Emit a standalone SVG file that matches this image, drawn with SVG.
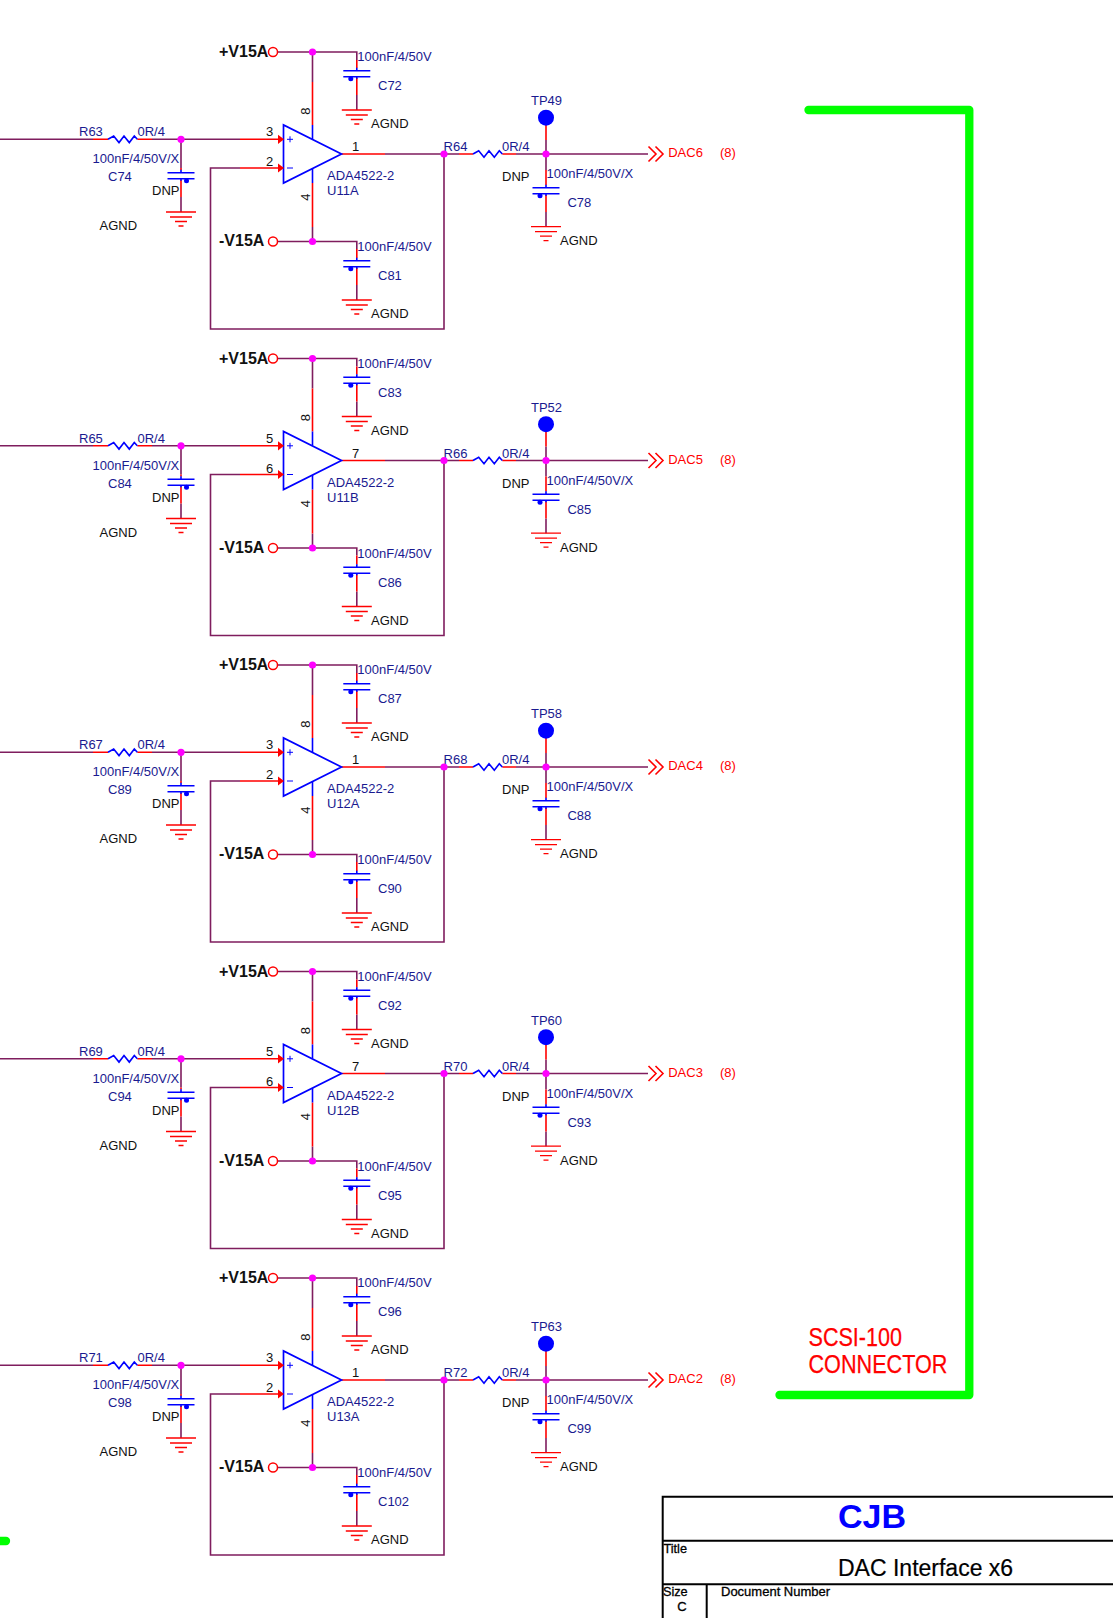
<svg xmlns="http://www.w3.org/2000/svg" width="1113" height="1618" viewBox="0 0 1113 1618">
<style>
text{font-family:"Liberation Sans",Arial,sans-serif;font-size:13px}
.n{fill:#1a1a90}
.k{fill:#111}
.r{fill:#ff0000;font-size:13px}
.b{fill:#111;font-weight:bold;font-size:16px}
.m{text-anchor:middle}
.t{fill:#000;stroke:#000;stroke-width:.3px}
.s{fill:none;stroke-width:1.6;stroke-linecap:butt}
.p{stroke:#7f1d5e}
.e{stroke:#ff0000}
.u{stroke:#0000ff}
.bk{fill:none;stroke:#000;stroke-width:2}
.g{fill:none;stroke:#00ff00;stroke-width:8.3;stroke-linecap:round;stroke-linejoin:round}
.o{fill:#fff;stroke:#ff0000;stroke-width:1.5}
</style>
<defs>
<circle id="j" r="3.6" fill="#ff00ff"/>
<polyline id="res" class="s u" points="0,0 5.7,-3.3 11,3.3 16,-3.3 21.3,3.3 26.3,-3.3 29.3,0"/>
<g id="gnd" class="s e" style="stroke-width:1.3"><path d="M-15 0H15M-11 5H11M-6 9.5H6M-2.5 14H2.5"/></g>
<g id="cap"><path class="s u" d="M-13.5 0H13.5M-13.5 6H13.5M0 -3V0M0 6V8"/><circle cx="-6" cy="8" r="2.5" fill="#0000ff"/></g>
<g id="capm"><path class="s u" d="M-13.5 0H13.5M-13.5 6H13.5M0 -3V0M0 6V8"/><circle cx="5.5" cy="8" r="2.5" fill="#0000ff"/></g>
<g id="amp">
<polygon points="283.5,125 283.5,183 341.5,154" fill="none" stroke="#0000ff" stroke-width="1.7"/>
<polygon points="278,134.8 284,139.3 278,144" fill="#ff0000"/>
<polygon points="278,163.5 284,168 278,172.5" fill="#ff0000"/>
<path class="s u" d="M312.5 125V139M312.5 168.6V183"/>
<path class="s u" style="stroke-width:1" d="M287 139.3H293M290 136.3V142.3M287 168H293"/>
</g>
<path id="chev" class="s e" d="M0 -7.5L7.5 0L0 7.5M7 -7.5L14.5 0L7 7.5"/>
<g id="w">
<path class="s p" d="M0 139.3H93M152 139.3H240M240 168H210.5V329H444V154M385 154H459M516 154H648M278 52H356.8V60M312.5 52V82M181 139.3V168M181 197V212M278 241.5H356.8V249M312.5 227V241.5M356.8 95V110M356.8 285V300M546 140V170M546 212V226.7"/>
<path class="s e" d="M93 139.3H108M137.3 139.3H152M240 139.3H280M240 168H280M341.5 154H385M459 154H473M502.3 154H516M312.5 82V125M312.5 183V227M356.8 60V68M356.8 78V95M356.8 249V258M356.8 268V285M181 168V170M181 180V197M546 125V140M546 170V185M546 195V212"/>
</g>
</defs>
<rect width="1113" height="1618" fill="#fff"/>
<g id="connectors">
<use href="#w"/><use href="#w" y="306.5"/><use href="#w" y="613"/><use href="#w" y="919.5"/><use href="#w" y="1226"/>
</g>

<g id="block1">
<g id="R63"><use href="#res" x="108" y="139.3"/><text class="n" x="79" y="136">R63</text><text class="n" x="137.5" y="136">0R/4</text></g>
<g id="C74"><use href="#capm" x="181" y="172.7"/><use href="#gnd" x="181" y="212"/><text class="n" x="92.5" y="163">100nF/4/50V/X</text><text class="n" x="108" y="181">C74</text><text class="k" x="152" y="195">DNP</text><text class="k" x="99.5" y="230">AGND</text></g>
<g id="U11A"><use href="#amp"/><text class="k" x="266" y="136">3</text><text class="k" x="266" y="166">2</text><text class="k" x="352" y="151">1</text><text class="k m" x="309.5" y="111" transform="rotate(-90 309.5 111)">8</text><text class="k m" x="309.5" y="197" transform="rotate(-90 309.5 197)">4</text><text class="n" x="327" y="180">ADA4522-2</text><text class="n" x="327" y="195">U11A</text></g>
<g id="VP1"><circle class="o" cx="273" cy="52" r="4.5"/><text class="b" x="219" y="57">+V15A</text><use href="#j" x="312.5" y="52"/></g>
<g id="VN1"><circle class="o" cx="273" cy="241.5" r="4.5"/><text class="b" x="219" y="246">-V15A</text><use href="#j" x="312.5" y="241.5"/></g>
<g id="C72"><use href="#cap" x="356.8" y="70.7"/><use href="#gnd" x="356.8" y="110"/><text class="n" x="357.3" y="61">100nF/4/50V</text><text class="n" x="378" y="90">C72</text><text class="k" x="371" y="128">AGND</text></g>
<g id="C81"><use href="#cap" x="356.8" y="260.7"/><use href="#gnd" x="356.8" y="300"/><text class="n" x="357.3" y="251">100nF/4/50V</text><text class="n" x="378" y="280">C81</text><text class="k" x="371" y="318">AGND</text></g>
<g id="R64"><use href="#res" x="473" y="154"/><text class="n" x="443.6" y="151">R64</text><text class="n" x="502" y="151">0R/4</text></g>
<g id="TP49"><circle cx="546" cy="117.7" r="8" fill="#0000ff"/><text class="n" x="531" y="105">TP49</text></g>
<g id="C78"><use href="#cap" x="546" y="187.7"/><use href="#gnd" x="546" y="226.7"/><text class="k" x="502" y="181">DNP</text><text class="n" x="546.5" y="178">100nF/4/50V/X</text><text class="n" x="567.4" y="207">C78</text><text class="k" x="560" y="245">AGND</text></g>
<g id="DAC6"><use href="#chev" x="648.5" y="154"/><text class="r" x="668.2" y="157">DAC6</text><text class="r" x="720" y="157">(8)</text></g>
<g id="J1"><use href="#j" x="181" y="139.3"/><use href="#j" x="444" y="154"/><use href="#j" x="546" y="154"/></g>
</g>

<g id="block2" transform="translate(0,306.5)">
<g id="R65"><use href="#res" x="108" y="139.3"/><text class="n" x="79" y="136">R65</text><text class="n" x="137.5" y="136">0R/4</text></g>
<g id="C84"><use href="#capm" x="181" y="172.7"/><use href="#gnd" x="181" y="212"/><text class="n" x="92.5" y="163">100nF/4/50V/X</text><text class="n" x="108" y="181">C84</text><text class="k" x="152" y="195">DNP</text><text class="k" x="99.5" y="230">AGND</text></g>
<g id="U11B"><use href="#amp"/><text class="k" x="266" y="136">5</text><text class="k" x="266" y="166">6</text><text class="k" x="352" y="151">7</text><text class="k m" x="309.5" y="111" transform="rotate(-90 309.5 111)">8</text><text class="k m" x="309.5" y="197" transform="rotate(-90 309.5 197)">4</text><text class="n" x="327" y="180">ADA4522-2</text><text class="n" x="327" y="195">U11B</text></g>
<g id="VP2"><circle class="o" cx="273" cy="52" r="4.5"/><text class="b" x="219" y="57">+V15A</text><use href="#j" x="312.5" y="52"/></g>
<g id="VN2"><circle class="o" cx="273" cy="241.5" r="4.5"/><text class="b" x="219" y="246">-V15A</text><use href="#j" x="312.5" y="241.5"/></g>
<g id="C83"><use href="#cap" x="356.8" y="70.7"/><use href="#gnd" x="356.8" y="110"/><text class="n" x="357.3" y="61">100nF/4/50V</text><text class="n" x="378" y="90">C83</text><text class="k" x="371" y="128">AGND</text></g>
<g id="C86"><use href="#cap" x="356.8" y="260.7"/><use href="#gnd" x="356.8" y="300"/><text class="n" x="357.3" y="251">100nF/4/50V</text><text class="n" x="378" y="280">C86</text><text class="k" x="371" y="318">AGND</text></g>
<g id="R66"><use href="#res" x="473" y="154"/><text class="n" x="443.6" y="151">R66</text><text class="n" x="502" y="151">0R/4</text></g>
<g id="TP52"><circle cx="546" cy="117.7" r="8" fill="#0000ff"/><text class="n" x="531" y="105">TP52</text></g>
<g id="C85"><use href="#cap" x="546" y="187.7"/><use href="#gnd" x="546" y="226.7"/><text class="k" x="502" y="181">DNP</text><text class="n" x="546.5" y="178">100nF/4/50V/X</text><text class="n" x="567.4" y="207">C85</text><text class="k" x="560" y="245">AGND</text></g>
<g id="DAC5"><use href="#chev" x="648.5" y="154"/><text class="r" x="668.2" y="157">DAC5</text><text class="r" x="720" y="157">(8)</text></g>
<g id="J2"><use href="#j" x="181" y="139.3"/><use href="#j" x="444" y="154"/><use href="#j" x="546" y="154"/></g>
</g>

<g id="block3" transform="translate(0,613)">
<g id="R67"><use href="#res" x="108" y="139.3"/><text class="n" x="79" y="136">R67</text><text class="n" x="137.5" y="136">0R/4</text></g>
<g id="C89"><use href="#capm" x="181" y="172.7"/><use href="#gnd" x="181" y="212"/><text class="n" x="92.5" y="163">100nF/4/50V/X</text><text class="n" x="108" y="181">C89</text><text class="k" x="152" y="195">DNP</text><text class="k" x="99.5" y="230">AGND</text></g>
<g id="U12A"><use href="#amp"/><text class="k" x="266" y="136">3</text><text class="k" x="266" y="166">2</text><text class="k" x="352" y="151">1</text><text class="k m" x="309.5" y="111" transform="rotate(-90 309.5 111)">8</text><text class="k m" x="309.5" y="197" transform="rotate(-90 309.5 197)">4</text><text class="n" x="327" y="180">ADA4522-2</text><text class="n" x="327" y="195">U12A</text></g>
<g id="VP3"><circle class="o" cx="273" cy="52" r="4.5"/><text class="b" x="219" y="57">+V15A</text><use href="#j" x="312.5" y="52"/></g>
<g id="VN3"><circle class="o" cx="273" cy="241.5" r="4.5"/><text class="b" x="219" y="246">-V15A</text><use href="#j" x="312.5" y="241.5"/></g>
<g id="C87"><use href="#cap" x="356.8" y="70.7"/><use href="#gnd" x="356.8" y="110"/><text class="n" x="357.3" y="61">100nF/4/50V</text><text class="n" x="378" y="90">C87</text><text class="k" x="371" y="128">AGND</text></g>
<g id="C90"><use href="#cap" x="356.8" y="260.7"/><use href="#gnd" x="356.8" y="300"/><text class="n" x="357.3" y="251">100nF/4/50V</text><text class="n" x="378" y="280">C90</text><text class="k" x="371" y="318">AGND</text></g>
<g id="R68"><use href="#res" x="473" y="154"/><text class="n" x="443.6" y="151">R68</text><text class="n" x="502" y="151">0R/4</text></g>
<g id="TP58"><circle cx="546" cy="117.7" r="8" fill="#0000ff"/><text class="n" x="531" y="105">TP58</text></g>
<g id="C88"><use href="#cap" x="546" y="187.7"/><use href="#gnd" x="546" y="226.7"/><text class="k" x="502" y="181">DNP</text><text class="n" x="546.5" y="178">100nF/4/50V/X</text><text class="n" x="567.4" y="207">C88</text><text class="k" x="560" y="245">AGND</text></g>
<g id="DAC4"><use href="#chev" x="648.5" y="154"/><text class="r" x="668.2" y="157">DAC4</text><text class="r" x="720" y="157">(8)</text></g>
<g id="J3"><use href="#j" x="181" y="139.3"/><use href="#j" x="444" y="154"/><use href="#j" x="546" y="154"/></g>
</g>

<g id="block4" transform="translate(0,919.5)">
<g id="R69"><use href="#res" x="108" y="139.3"/><text class="n" x="79" y="136">R69</text><text class="n" x="137.5" y="136">0R/4</text></g>
<g id="C94"><use href="#capm" x="181" y="172.7"/><use href="#gnd" x="181" y="212"/><text class="n" x="92.5" y="163">100nF/4/50V/X</text><text class="n" x="108" y="181">C94</text><text class="k" x="152" y="195">DNP</text><text class="k" x="99.5" y="230">AGND</text></g>
<g id="U12B"><use href="#amp"/><text class="k" x="266" y="136">5</text><text class="k" x="266" y="166">6</text><text class="k" x="352" y="151">7</text><text class="k m" x="309.5" y="111" transform="rotate(-90 309.5 111)">8</text><text class="k m" x="309.5" y="197" transform="rotate(-90 309.5 197)">4</text><text class="n" x="327" y="180">ADA4522-2</text><text class="n" x="327" y="195">U12B</text></g>
<g id="VP4"><circle class="o" cx="273" cy="52" r="4.5"/><text class="b" x="219" y="57">+V15A</text><use href="#j" x="312.5" y="52"/></g>
<g id="VN4"><circle class="o" cx="273" cy="241.5" r="4.5"/><text class="b" x="219" y="246">-V15A</text><use href="#j" x="312.5" y="241.5"/></g>
<g id="C92"><use href="#cap" x="356.8" y="70.7"/><use href="#gnd" x="356.8" y="110"/><text class="n" x="357.3" y="61">100nF/4/50V</text><text class="n" x="378" y="90">C92</text><text class="k" x="371" y="128">AGND</text></g>
<g id="C95"><use href="#cap" x="356.8" y="260.7"/><use href="#gnd" x="356.8" y="300"/><text class="n" x="357.3" y="251">100nF/4/50V</text><text class="n" x="378" y="280">C95</text><text class="k" x="371" y="318">AGND</text></g>
<g id="R70"><use href="#res" x="473" y="154"/><text class="n" x="443.6" y="151">R70</text><text class="n" x="502" y="151">0R/4</text></g>
<g id="TP60"><circle cx="546" cy="117.7" r="8" fill="#0000ff"/><text class="n" x="531" y="105">TP60</text></g>
<g id="C93"><use href="#cap" x="546" y="187.7"/><use href="#gnd" x="546" y="226.7"/><text class="k" x="502" y="181">DNP</text><text class="n" x="546.5" y="178">100nF/4/50V/X</text><text class="n" x="567.4" y="207">C93</text><text class="k" x="560" y="245">AGND</text></g>
<g id="DAC3"><use href="#chev" x="648.5" y="154"/><text class="r" x="668.2" y="157">DAC3</text><text class="r" x="720" y="157">(8)</text></g>
<g id="J4"><use href="#j" x="181" y="139.3"/><use href="#j" x="444" y="154"/><use href="#j" x="546" y="154"/></g>
</g>

<g id="block5" transform="translate(0,1226)">
<g id="R71"><use href="#res" x="108" y="139.3"/><text class="n" x="79" y="136">R71</text><text class="n" x="137.5" y="136">0R/4</text></g>
<g id="C98"><use href="#capm" x="181" y="172.7"/><use href="#gnd" x="181" y="212"/><text class="n" x="92.5" y="163">100nF/4/50V/X</text><text class="n" x="108" y="181">C98</text><text class="k" x="152" y="195">DNP</text><text class="k" x="99.5" y="230">AGND</text></g>
<g id="U13A"><use href="#amp"/><text class="k" x="266" y="136">3</text><text class="k" x="266" y="166">2</text><text class="k" x="352" y="151">1</text><text class="k m" x="309.5" y="111" transform="rotate(-90 309.5 111)">8</text><text class="k m" x="309.5" y="197" transform="rotate(-90 309.5 197)">4</text><text class="n" x="327" y="180">ADA4522-2</text><text class="n" x="327" y="195">U13A</text></g>
<g id="VP5"><circle class="o" cx="273" cy="52" r="4.5"/><text class="b" x="219" y="57">+V15A</text><use href="#j" x="312.5" y="52"/></g>
<g id="VN5"><circle class="o" cx="273" cy="241.5" r="4.5"/><text class="b" x="219" y="246">-V15A</text><use href="#j" x="312.5" y="241.5"/></g>
<g id="C96"><use href="#cap" x="356.8" y="70.7"/><use href="#gnd" x="356.8" y="110"/><text class="n" x="357.3" y="61">100nF/4/50V</text><text class="n" x="378" y="90">C96</text><text class="k" x="371" y="128">AGND</text></g>
<g id="C102"><use href="#cap" x="356.8" y="260.7"/><use href="#gnd" x="356.8" y="300"/><text class="n" x="357.3" y="251">100nF/4/50V</text><text class="n" x="378" y="280">C102</text><text class="k" x="371" y="318">AGND</text></g>
<g id="R72"><use href="#res" x="473" y="154"/><text class="n" x="443.6" y="151">R72</text><text class="n" x="502" y="151">0R/4</text></g>
<g id="TP63"><circle cx="546" cy="117.7" r="8" fill="#0000ff"/><text class="n" x="531" y="105">TP63</text></g>
<g id="C99"><use href="#cap" x="546" y="187.7"/><use href="#gnd" x="546" y="226.7"/><text class="k" x="502" y="181">DNP</text><text class="n" x="546.5" y="178">100nF/4/50V/X</text><text class="n" x="567.4" y="207">C99</text><text class="k" x="560" y="245">AGND</text></g>
<g id="DAC2"><use href="#chev" x="648.5" y="154"/><text class="r" x="668.2" y="157">DAC2</text><text class="r" x="720" y="157">(8)</text></g>
<g id="J5"><use href="#j" x="181" y="139.3"/><use href="#j" x="444" y="154"/><use href="#j" x="546" y="154"/></g>
</g>

<g id="scsi-bracket">
<path class="g" d="M808.5 110H969.3V1395H779.5"/>
<path class="g" d="M-6 1541H6"/>
<text x="808.5" y="1345.7" textLength="93.5" lengthAdjust="spacingAndGlyphs" style="font-size:25px;fill:#ff0000;stroke:#ff0000;stroke-width:.25px">SCSI-100</text>
<text x="808.5" y="1372.7" textLength="139" lengthAdjust="spacingAndGlyphs" style="font-size:25px;fill:#ff0000;stroke:#ff0000;stroke-width:.25px">CONNECTOR</text>
</g>

<g id="title-block">
<path class="bk" d="M1113 1496.7H662.7V1618M662.7 1540.7H1113M662.7 1584.3H1113M706.7 1584.3V1618"/>
<text x="838" y="1528" style="font-size:34px;font-weight:bold;fill:#0000ff">CJB</text>
<text class="t" x="663.5" y="1553" style="font-size:12.7px">Title</text>
<text x="838" y="1575.7" style="font-size:23px;fill:#000;stroke:#000;stroke-width:.2px">DAC Interface x6</text>
<text class="t" x="663" y="1596" style="font-size:12.7px">Size</text>
<text class="t" x="721" y="1596" style="font-size:13px">Document Number</text>
<text class="t" x="677.3" y="1611" style="font-size:13px">C</text>
</g>
</svg>
